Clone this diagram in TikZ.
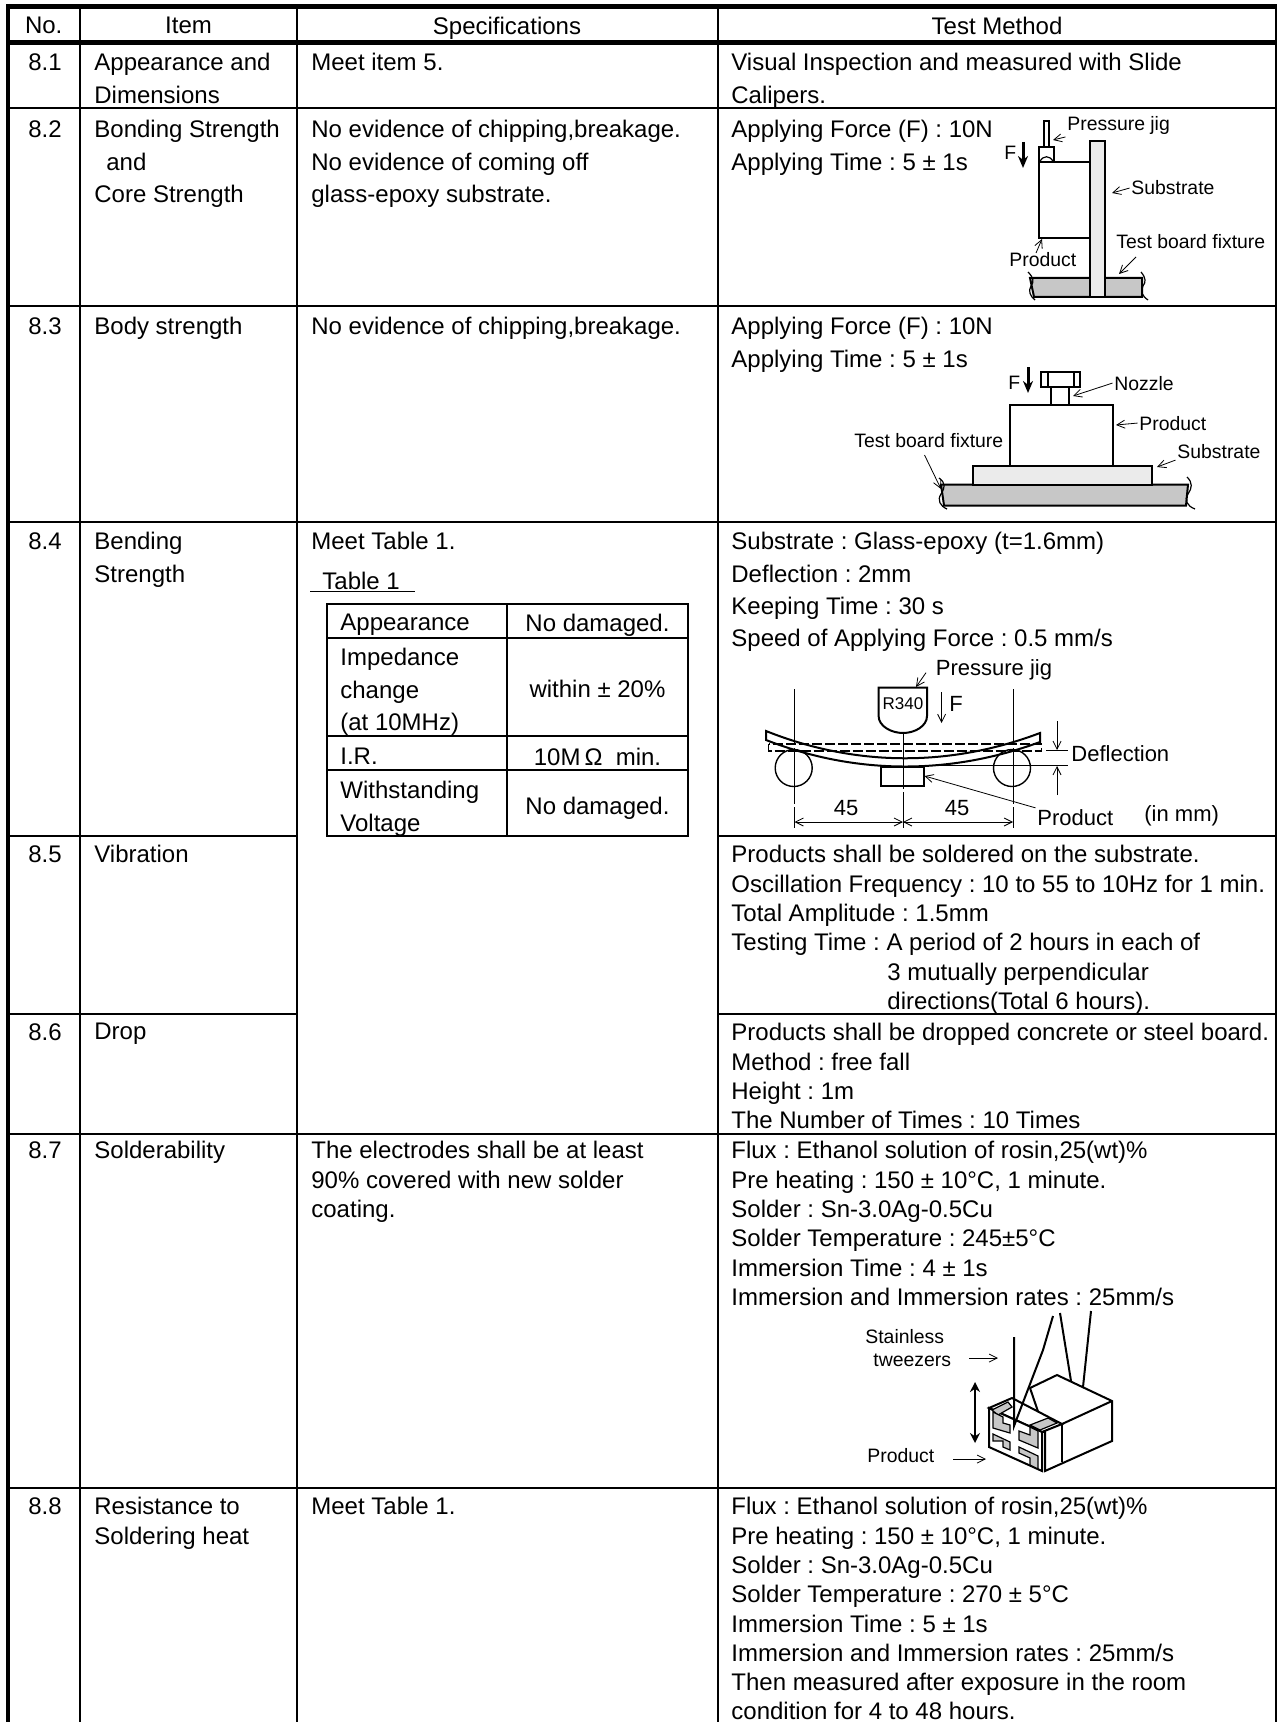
\documentclass[tikz,border=0pt]{standalone}
\usepackage{fontspec}
\setmainfont{Liberation Sans}
\usetikzlibrary{arrows.meta}
\newcommand{\lsize}{\fontsize{12}{16.15}\selectfont}
\newcommand{\tsize}{\fontsize{12}{14.65}\selectfont}
\begin{document}
\frenchspacing
\begin{tikzpicture}[x=0.5pt,y=-0.5pt]

                \tikzstyle{heavy}  = [line width=2.25pt]
                \tikzstyle{rule}   = [line width=1pt]
                \tikzstyle{part}   = [line width=1pt, line join=miter]
                \tikzstyle{slim}   = [line width=0.6pt]
                \tikzstyle{barb}   = [line width=0.4pt, -{Straight Barb[length=4pt,width=4pt]}]
                \tikzstyle{twobarb} = [line width=0.4pt, {Straight Barb[length=4pt,width=4pt]}-{Straight Barb[length=4pt,width=4pt]}]
                \tikzstyle{force}  = [line width=1.5pt, -{Stealth[length=6pt,width=5pt]}]
                \tikzstyle{head}   = [inner sep=0pt, anchor=north, font=\tsize]
                \tikzstyle{tight}  = [inner sep=0pt, anchor=north west, align=left, font=\tsize]
                \tikzstyle{loose}  = [inner sep=0pt, anchor=north west, align=left, font=\lsize]
                \tikzstyle{lab}    = [inner sep=0.75pt, anchor=base west, font=\fontsize{9.7}{12}\selectfont]
                \tikzstyle{labw}   = [inner sep=0.75pt, anchor=base west, font=\fontsize{11}{13}\selectfont]
                \tikzstyle{roller} = [draw, circle, inner sep=0pt, minimum size=18.5pt, line width=0.7pt]

                \useasboundingbox (0,0) rectangle (1277,1722);

                \foreach \x in {80, 297, 718}
                {
                        \draw [rule] (\x,6) -- (\x,1722);
                }
                \draw [line width=0.75pt] (1276,6) -- (1276,1722);
                \foreach \y in {108.5, 306.5, 522, 1134, 1488}
                {
                        \draw [rule] (8,\y) -- (1277,\y);
                }
                \foreach \y in {836, 1014}
                {
                        \draw [rule] (8,\y) -- (297,\y);
                        \draw [rule] (718,\y) -- (1277,\y);
                }
                \draw [heavy] (6,6.5) -- (1277,6.5);
                \draw [heavy] (6,42.5) -- (1277,42.5);
                \draw [heavy] (8,4) -- (8,1722);

                \node [head](hno) at (43.7,17) {No.};
                \node [head](hitem) at (188.5,17) {Item};
                \node [head](hspec) at (507,17) {Specifications};
                \node [head](htest) at (997,17) {Test Method};

                \foreach \y/\lab [count=\r] in {53/8.1, 120/8.2, 317/8.3, 532/8.4, 845/8.5, 1023/8.6, 1141/8.7, 1497/8.8}
                {
                        \node [tight](no\r) at (28,\y) {\lab};
                }

                \node [loose](item1) at (94,53) {Appearance and\\Dimensions};
                \node [loose](item2) at (94,120) {Bonding Strength\\\hspace*{6pt}and\\Core Strength};
                \node [loose](item3) at (94,317) {Body strength};
                \node [loose](item4) at (94,532) {Bending\\Strength};
                \node [loose](item5) at (94,845) {Vibration};
                \node [loose](item6) at (94,1023) {Drop};
                \node [loose](item7) at (94,1141) {Solderability};
                \node [tight](item8) at (94,1497) {Resistance to\\Soldering heat};

                \node [loose](spec1) at (311,53) {Meet item 5.};
                \node [loose](spec2) at (311,120) {No evidence of chipping,breakage.\\No evidence of coming off\\glass-epoxy substrate.};
                \node [loose](spec3) at (311,317) {No evidence of chipping,breakage.};
                \node [loose](spec4) at (311,532) {Meet Table 1.};
                \node [tight](spec7) at (311,1141) {The electrodes shall be at least\\90\% covered with new solder\\coating.};
                \node [tight](spec8) at (311,1497) {Meet Table 1.};

                \node [tight](tabname) at (322,572) {Table 1};
                \draw [line width=0.75pt] (310,591.5) -- (415,591.5);
                \draw [rule] (327,604) rectangle (688,836);
                \draw [rule] (507,604) -- (507,836);
                \foreach \y in {637.7, 736, 770}
                {
                        \draw [rule] (327,\y) -- (688,\y);
                }
                \node [tight](tapp) at (340,614) {Appearance};
                \node [loose](timp) at (340,648) {Impedance\\change\\(at 10MHz)};
                \node [tight](tir) at (340,748) {I.R.};
                \node [loose](twith) at (340,781) {Withstanding\\Voltage};
                \node [head](vapp) at (597.5,614) {No damaged.};
                \node [head](vimp) at (597.5,680) {within ± 20\%};
                \node [head](vir) at (597.5,748) {10M\,Ω\ \ min.};
                \node [head](vwith) at (597.5,797) {No damaged.};

                \node [loose](test1) at (731,53) {Visual Inspection and measured with Slide\\Calipers.};
                \node [loose](test2) at (731,120) {Applying Force (F) : 10N\\Applying Time : 5 ± 1s};
                \node [loose](test3) at (731,317) {Applying Force (F) : 10N\\Applying Time : 5 ± 1s};
                \node [loose](test4) at (731,532) {Substrate : Glass-epoxy (t=1.6mm)\\Deflection : 2mm\\Keeping Time : 30 s\\Speed of Applying Force : 0.5 mm/s};
                \node [tight](test5) at (731,845) {Products shall be soldered on the substrate.\\Oscillation Frequency : 10 to 55 to 10Hz for 1 min.\\Total Amplitude : 1.5mm\\Testing Time : A period of 2 hours in each of\\\hspace*{78pt}3 mutually perpendicular\\\hspace*{78pt}directions(Total 6 hours).};
                \node [tight](test6) at (731,1023) {Products shall be dropped concrete or steel board.\\Method : free fall\\Height : 1m\\The Number of Times : 10 Times};
                \node [tight](test7) at (731,1141) {Flux : Ethanol solution of rosin,25(wt)\%\\Pre heating : 150 ± 10°C, 1 minute.\\Solder : Sn-3.0Ag-0.5Cu\\Solder Temperature : 245±5°C\\Immersion Time : 4 ± 1s\\Immersion and Immersion rates : 25mm/s};
                \node [tight](test8) at (731,1497) {Flux : Ethanol solution of rosin,25(wt)\%\\Pre heating : 150 ± 10°C, 1 minute.\\Solder : Sn-3.0Ag-0.5Cu\\Solder Temperature : 270 ± 5°C\\Immersion Time : 5 ± 1s\\Immersion and Immersion rates : 25mm/s\\Then measured after exposure in the room\\condition for 4 to 48 hours.};

                \draw [part, fill=black!22] (1030,278) -- (1142,278) -- (1142,297) -- (1034,297) -- cycle;
                \draw [slim] (1028,272) .. controls (1034,278) and (1034,282) .. (1031,286) .. controls (1028,291) and (1030,296) .. (1035,300);
                \draw [slim] (1141,272) .. controls (1146,278) and (1146,282) .. (1143,286) .. controls (1140,291) and (1142,296) .. (1148,300);
                \draw [part, fill=black!8] (1090,141) rectangle (1105,297);
                \draw [part] (1039,162) rectangle (1090,238);
                \draw [part] (1039,147) rectangle (1054,162);
                \draw [slim] (1044,121) rectangle (1049,147);
                \draw [slim] (1040,162) .. controls (1042,155) and (1051,155) .. (1053,162);
                \draw [force] (1023,142) -- (1023,168);
                \node [lab](bf) at (1002.5,160) {F};
                \node [lab](bjig) at (1065.5,131) {Pressure jig};
                \node [lab](bsub) at (1129.5,195) {Substrate};
                \node [lab](bfix) at (1114.5,249) {Test board fixture};
                \node [lab](bprod) at (1007.5,267) {Product};
                \coordinate (bjigtip) at (1053,140);
                \coordinate (bsubtip) at (1112,193);
                \coordinate (bfixfrom) at (1136,257);
                \coordinate (bfixtip) at (1119,274);
                \coordinate (bprodfrom) at (1036,253);
                \coordinate (bprodtip) at (1042,239);
                \draw [barb] (bjig.south west) -- (bjigtip);
                \draw [barb] (bsub.west) -- (bsubtip);
                \draw [barb] (bfixfrom) -- (bfixtip);
                \draw [barb] (bprodfrom) -- (bprodtip);

                \draw [part, fill=black!22] (941,484.5) -- (1188,484.5) -- (1186,505.5) -- (944,505.5) -- cycle;
                \draw [slim] (939,478) .. controls (946,483) and (945,488) .. (941,494) .. controls (937,500) and (940,506) .. (947,509);
                \draw [slim] (1187,477) .. controls (1193,483) and (1192,488) .. (1188,494) .. controls (1184,500) and (1187,506) .. (1195,509);
                \draw [part, fill=black!8] (972.5,466) rectangle (1152,484.5);
                \draw [part] (1010,405) rectangle (1113,466);
                \draw [slim] (1051,387) -- (1051,405);
                \draw [slim] (1069,387) -- (1069,405);
                \draw [slim] (1041,372) rectangle (1080,387);
                \draw [slim] (1048,372) -- (1048,387);
                \draw [slim] (1074,372) -- (1074,387);
                \draw [force] (1028,367) -- (1028,393);
                \node [lab](cf) at (1006.5,389) {F};
                \node [lab](cnoz) at (1112.5,390) {Nozzle};
                \node [lab](cprod) at (1137.5,430) {Product};
                \node [lab](cfix) at (852.5,447) {Test board fixture};
                \node [lab](csub) at (1175.5,458) {Substrate};
                \coordinate (cnoztip) at (1073,396);
                \coordinate (cprodtip) at (1116,425);
                \coordinate (cfixfrom) at (924.5,455);
                \coordinate (cfixtip) at (941,489);
                \coordinate (csubtip) at (1157,467);
                \draw [barb] (cnoz.west) -- (cnoztip);
                \draw [barb] (cprod.west) -- (cprodtip);
                \draw [barb] (cfixfrom) -- (cfixtip);
                \draw [barb] (csub.south west) -- (csubtip);

                \draw [part] (878.6,687.7) -- (927,687.7) -- (927,716) .. controls (927,726) and (915,733) .. (903,733) .. controls (891,733) and (878.6,726) .. (878.6,716) -- cycle;
                \node [inner sep=0pt, font=\fontsize{8.5}{10}\selectfont](jigr) at (903,704) {R340};
                \draw [barb] (941.6,692) -- (941.6,723);
                \node [labw](df) at (947.5,711) {F};
                \node [labw](djig) at (934,675) {Pressure jig};
                \coordinate (djigtip) at (916,687);
                \draw [barb] (926,672.7) -- (djigtip);
                \foreach \x in {794.5, 1013}
                {
                        \draw [line width=0.4pt, dash pattern=on 28pt off 1.5pt] (\x,689) -- (\x,827.7);
                }
                \draw [line width=0.4pt, dash pattern=on 28pt off 1.5pt] (903,733) -- (903,827.7);
                \node [roller](rolla) at (793.7,768) {};
                \node [roller](rollb) at (1012,768) {};
                \draw [line width=0.6pt, dash pattern=on 5pt off 1.5pt] (768.5,744) rectangle (1041.6,751);
                \draw [part] (766,731) .. controls (856,767) and (950,767) .. (1040,733) -- (1040,742) .. controls (950,775) and (856,775) .. (766,740) -- cycle;
                \draw [part] (881,766.7) rectangle (924,786);
                \draw [line width=0.4pt] (924,765.7) -- (1067.6,765.7);
                \draw [line width=0.4pt] (1046,750) -- (1067.6,750);
                \draw [barb] (1057,721) -- (1057,750);
                \draw [barb] (1057,795) -- (1057,766);
                \node [labw](ddef) at (1069.5,761.7) {Deflection};
                \node [labw](d45a) at (832,815) {45};
                \node [labw](d45b) at (943,815) {45};
                \node [labw](dprod) at (1035.5,825.7) {Product};
                \node [labw](dunit) at (1142.5,821.7) {(in mm)};
                \coordinate (dprodtip) at (924.5,776);
                \draw [barb] (dprod.north west) -- (dprodtip);
                \draw [twobarb] (794.5,822) -- (903,822);
                \draw [twobarb] (903,822) -- (1013,822);

                \draw [part, fill=white] (1030,1388) -- (1057,1375) -- (1112,1401) -- (1112,1441) -- (1045,1471) -- (1045,1432) -- cycle;
                \draw [part] (1062,1424) -- (1112,1401);
                \draw [slim] (1062,1425) -- (1062,1462);
                \draw [part, fill=white] (989,1408) -- (1012,1398) -- (1062,1424) -- (1042,1432) -- cycle;
                \draw [part, fill=white] (989,1408) -- (1042,1432) -- (1042,1471) -- (989,1447) -- cycle;
                \draw [part] (1042,1432) -- (1045,1432);
                \draw [slim, fill=black!22] (1030,1425) -- (1048,1418) -- (1057,1423) -- (1040,1430) -- cycle;
                \draw [slim, fill=black!22] (992,1410) -- (1008,1402) -- (1012,1407) -- (998,1415) -- cycle;
                \draw [slim, fill=black!22] (993,1412) -- (1003,1417) -- (1003,1423) -- (1010,1425) -- (1010,1433) -- (993,1428) -- cycle;
                \draw [slim, fill=black!22] (1019,1431) -- (1030,1435) -- (1030,1427) -- (1038,1431) -- (1038,1448) -- (1019,1440) -- cycle;
                \draw [slim, fill=black!22] (993,1434) -- (1010,1442) -- (1010,1450) -- (1003,1447) -- (1003,1441) -- (993,1441) -- cycle;
                \draw [slim, fill=black!22] (1019,1447) -- (1038,1456) -- (1038,1469) -- (1030,1465) -- (1030,1458) -- (1019,1453) -- cycle;
                \draw [part] (1014,1337) -- (1014,1426) -- (1043,1350) -- (1053,1316);
                \draw [part] (1060,1313) -- (1071,1381);
                \draw [part] (1091,1311) -- (1083,1387);
                \draw [line width=1.2pt, {Stealth[length=5pt,width=5pt]}-{Stealth[length=5pt,width=5pt]}] (975,1382) -- (975,1443);
                \node [lab](estain) at (863.5,1343) {Stainless};
                \node [lab](etwee) at (871.5,1366) {tweezers};
                \node [lab](eprod) at (865.5,1462) {Product};
                \coordinate (etweetip) at (998,1358);
                \coordinate (eprodtip) at (986,1459);
                \draw [barb] (969,1358) -- (etweetip);
                \draw [barb] (953,1459) -- (eprodtip);

\end{tikzpicture}
\end{document}
